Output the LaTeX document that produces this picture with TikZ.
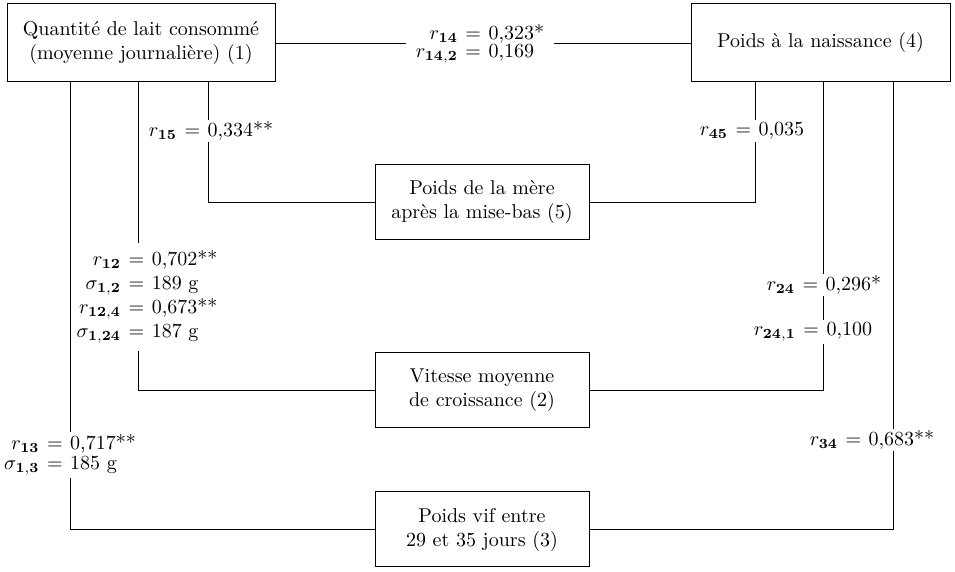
\documentclass[tikz,border=0pt]{standalone}
\usepackage{array}
\newcommand{\eqs}{\hspace{0.38em}=\hspace{0.38em}}
\begin{document}
\begin{tikzpicture}[x=0.5pt,y=-0.5pt,
  varbox/.style={draw, line width=0.5pt, align=center, inner sep=0pt},
  conn/.style={line width=0.45pt},
  lab/.style={fill=white, inner xsep=2pt, inner ysep=1pt}]
\useasboundingbox (0,0) rectangle (955,572);
% boxes
\node[varbox, minimum width=134pt, minimum height=39pt] (b1) at (141,43)
  {Quantité de lait consommé\\(moyenne journalière) (1)};
\node[varbox, minimum width=129.5pt, minimum height=39pt] (b4) at (820.5,43)
  {Poids à la naissance (4)};
\node[varbox, minimum width=107pt, minimum height=37.5pt] (b5) at (482,202.5)
  {Poids de la mère\\après la mise-bas (5)};
\node[varbox, minimum width=107pt, minimum height=37.5pt] (b2) at (482,390.5)
  {Vitesse moyenne\\de croissance (2)};
\node[varbox, minimum width=107pt, minimum height=37.5pt] (b3) at (482,529.5)
  {Poids vif entre\\29 et 35 jours (3)};
% connectors
\draw[conn] (b1.east) -- (b4.west);
\draw[conn] (70,0 |- b1.south) |- (b3.west);
\draw[conn] (138,0 |- b1.south) |- (b2.west);
\draw[conn] (208,0 |- b1.south) |- (b5.west);
\draw[conn] (755,0 |- b4.south) |- (b5.east);
\draw[conn] (823,0 |- b4.south) |- (b2.east);
\draw[conn] (893,0 |- b4.south) |- (b3.east);
% labels
\node[lab, inner xsep=5pt] (l14) at (480,44) {\renewcommand\arraystretch{0.75}%
  \begin{tabular}{@{}r@{\eqs}l@{}}$r_{\mathbf{14}}$ & 0,323*\\ $r_{\mathbf{14,2}}$ & 0,169\end{tabular}};
\node[lab] (l15) at (211,131) {$r_{\mathbf{15}}$\eqs0,334**};
\node[lab] (l45) at (752,131) {$r_{\mathbf{45}}$\eqs0,035};
\node[lab, inner xsep=0pt, inner ysep=3pt] (l12) at (147,297) {%
  \begin{tabular}{@{}r@{\eqs}l@{}}$r_{\mathbf{12}}$ & 0,702**\\ $\sigma_{\mathbf{1,2}}$ & 189 g\\
  $r_{\mathbf{12,4}}$ & 0,673**\\ $\sigma_{\mathbf{1,24}}$ & 187 g\end{tabular}};
\node[lab] (l24) at (824,285) {$r_{\mathbf{24}}$\eqs0,296*};
\node[lab] (l241) at (813,332) {$r_{\mathbf{24,1}}$\eqs0,100};
\node[lab, inner xsep=0pt] (l13) at (70,455) {\renewcommand\arraystretch{0.85}%
  \begin{tabular}{@{}r@{\eqs}l@{}}$r_{\mathbf{13}}$ & 0,717**\\ $\sigma_{\mathbf{1,3}}$ & 185 g\end{tabular}};
\node[lab] (l34) at (872,440) {$r_{\mathbf{34}}$\eqs0,683**};
\end{tikzpicture}
\end{document}
